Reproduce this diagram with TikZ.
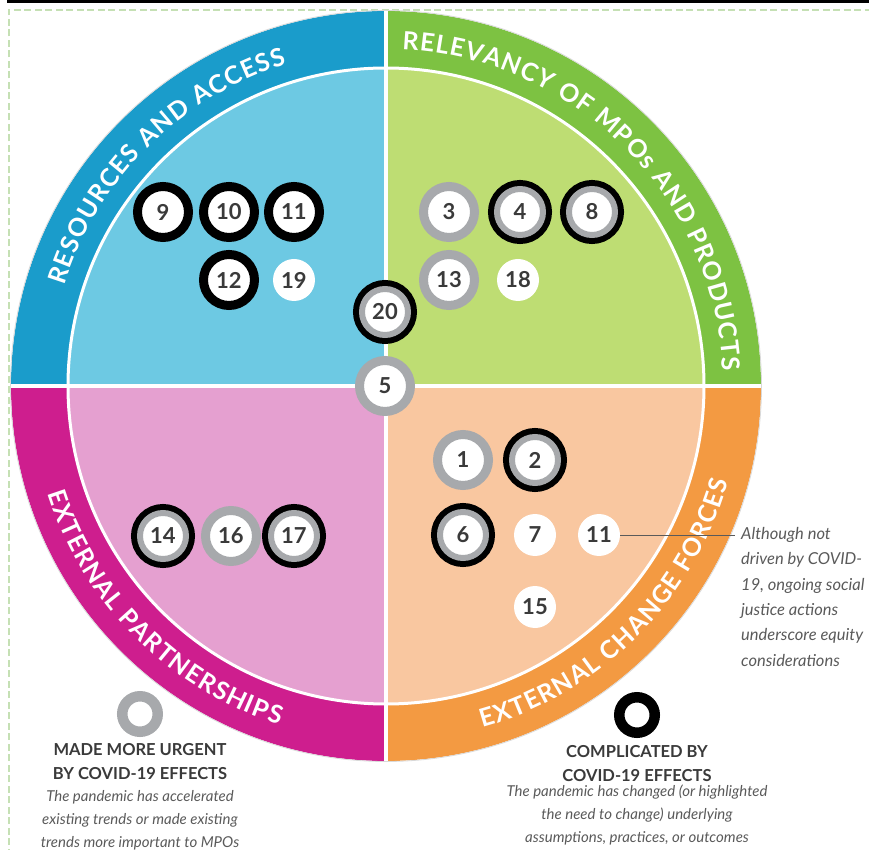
\documentclass[tikz,border=0pt]{standalone}
\usepackage{fontspec}
\setmainfont{Lato}
\usepackage{xcolor}
\usepackage{tikz}
\usetikzlibrary{positioning,decorations.text}

\definecolor{raband}{HTML}{1A9CCB}
\definecolor{rafill}{HTML}{6DC9E3}
\definecolor{relband}{HTML}{7DC242}
\definecolor{relfill}{HTML}{BEDD73}
\definecolor{epband}{HTML}{CE1E8E}
\definecolor{epfill}{HTML}{E5A0D0}
\definecolor{ecband}{HTML}{F39A42}
\definecolor{ecfill}{HTML}{F9C7A0}
\definecolor{ringgray}{HTML}{A7A9AC}
\definecolor{numgray}{HTML}{3A3A3A}
\definecolor{notegray}{HTML}{5A5A5A}
\definecolor{framegreen}{HTML}{C5E0B4}

\begin{document}
\begin{tikzpicture}[
		x=1pt, y=1pt, on grid,
		numb/.style={circle, inner sep=0pt, fill=white, text=numgray,
			font=\bfseries\fontsize{22}{22}\selectfont},
		urgent/.style={numb, draw=ringgray, line width=9pt, minimum size=51pt},
		complicated/.style={numb, draw=black, line width=9pt, minimum size=51pt},
		both/.style={numb, draw=ringgray, line width=6pt, minimum size=46pt,
			preaction={draw=black, line width=18pt}},
		plain/.style={numb, minimum size=42pt},
		legring/.style={circle, inner sep=0pt, line width=10.5pt, minimum size=35.5pt},
		legendhead/.style={align=center, text=numgray,
			font=\bfseries\fontsize{16.5}{24}\selectfont},
		legendbody/.style={align=center, text=notegray,
			font=\itshape\fontsize{15}{23}\selectfont},
		bandlabel/.style={decorate, decoration={text along path, text align=center,
			text={|\bfseries\fontsize{25}{25}\selectfont\color{white}\kern1.2pt|#1}}},
		leader/.style={draw=notegray, line width=0.7pt}
		]
		\useasboundingbox (-386,-464) rectangle (483,386);
		% frame
		\fill[black] (-379,386) rectangle (483,383.3);
		\draw[framegreen, line width=2pt, dash pattern=on 7pt off 3.5pt]
			(-377,-480) -- (-377,376) -- (500,376);
		% quadrants
		\foreach \a/\band/\fil in {90/raband/rafill, 0/relband/relfill,
			180/epband/epfill, 270/ecband/ecfill}{
			\fill[\band] (0,0) -- (\a:375pt) arc[start angle=\a, delta angle=90, radius=375pt] -- cycle;
			\fill[\fil] (0,0) -- (\a:318pt) arc[start angle=\a, delta angle=90, radius=318pt] -- cycle;
		}
		\draw[white, line width=3pt] (0,0) circle[radius=318pt];
		\draw[white, line width=4pt] (-376,0) -- (376,0) (0,-376) -- (0,376);
		\draw[gray!30, line width=0.8pt] (0,0) circle[radius=375.5pt];
		% band labels
		\path[bandlabel=RESOURCES AND ACCESS]
			(170:337pt) arc[start angle=170, end angle=100, radius=337pt];
		\path[bandlabel=RELEVANCY OF MPOs AND PRODUCTS]
			(95:337pt) arc[start angle=95, end angle=-5, radius=337pt];
		\path[bandlabel=EXTERNAL PARTNERSHIPS]
			(190:355pt) arc[start angle=190, end angle=260, radius=355pt];
		\path[bandlabel=EXTERNAL CHANGE FORCES]
			(280:355pt) arc[start angle=280, end angle=350, radius=355pt];

		% resources and access
		\node[complicated] (b9) at (-223,174) {9};
		\node[complicated, right=66pt of b9] (b10) {10};
		\node[complicated, right=65pt of b10] (b11) {11};
		\node[complicated, below=68pt of b10] (b12) {12};
		\node[plain, right=65pt of b12] (b19) {19};
		% relevancy
		\node[urgent] (b3) at (63,174) {3};
		\node[both, right=71pt of b3] (b4) {4};
		\node[both, right=72pt of b4] (b8) {8};
		\node[urgent, below=68pt of b3] (b13) {13};
		\node[plain, right=69pt of b13] (b18) {18};
		% centre
		\node[both] (b20) at (-1,74) {20};
		\node[urgent] (b5) at (-1,0) {5};
		% partnerships
		\node[both] (b14) at (-223,-150) {14};
		\node[urgent, right=68pt of b14] (b16) {16};
		\node[both, right=63pt of b16] (b17) {17};
		% change forces
		\node[urgent] (b1) at (77,-74) {1};
		\node[both, right=72pt of b1] (b2) {2};
		\node[both, below=75pt of b1] (b6) {6};
		\node[plain, right=72pt of b6] (b7) {7};
		\node[plain, right=64pt of b7] (b11x) {11};
		\node[plain, below=72pt of b7] (b15) {15};

		% side note
		\node[anchor=north west, inner sep=0pt, align=left, text=notegray,
			font=\itshape\fontsize{16.5}{25.4}\selectfont] (note) at (355,-141)
			{Although not\\driven by COVID-\\19, ongoing social\\justice actions\\underscore equity\\considerations};
		\coordinate (notetip) at (349,-149);
		\draw[leader] (b11x.east) -- (notetip);

		% legend
		\node[legring, draw=ringgray] (legU) at (-246,-328) {};
		\node[legendhead, below=48pt of legU] (headU) {MADE MORE URGENT\\BY COVID-19 EFFECTS};
		\node[legendbody, below=58pt of headU] (bodyU)
			{The pandemic has accelerated\\existing trends or made existing\\trends more important to MPOs};
		\node[legring, draw=black] (legC) at (251,-329) {};
		\node[legendhead, below=48.5pt of legC] (headC) {COMPLICATED BY\\COVID-19 EFFECTS};
		\node[legendbody, below=51.5pt of headC] (bodyC)
			{The pandemic has changed (or highlighted\\the need to change) underlying\\assumptions, practices, or outcomes};
	\end{tikzpicture}
\end{document}
